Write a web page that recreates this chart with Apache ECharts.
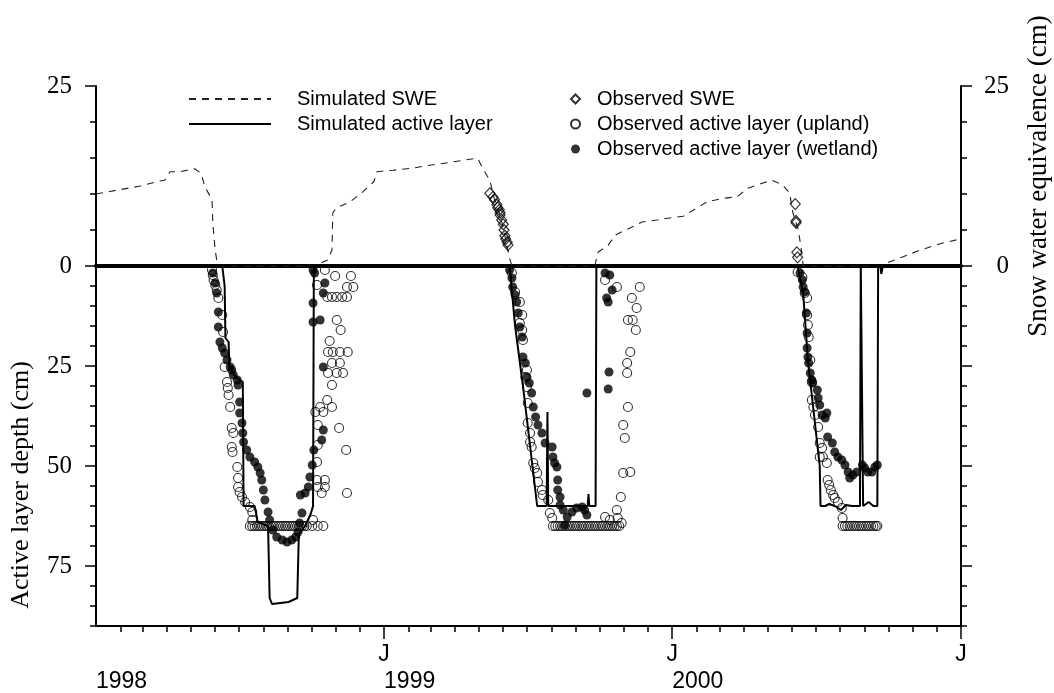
<!DOCTYPE html>
<html>
<head>
<meta charset="utf-8">
<title>Active layer and snow water equivalence</title>
<script src="https://cdn.jsdelivr.net/npm/echarts@6/dist/echarts.min.js"></script>
<style>
  html, body { margin: 0; padding: 0; background: #fff; }
  #chart { width: 1054px; height: 693px; }
</style>
</head>
<body>
<div id="chart"></div>
<script>
// ---- Data: [day of year, value] per calendar year ----
// Simulated snow water equivalence (cm)
const sweSim1998 = [[1,10.0],[31,10.6],[57,11.1],[82,11.8],[88,11.9],[95,13.1],[107,13.1],[126,13.5],[134,12.9],[139,11.0],[148,9.2],[149,6.0],[152,2.2],[154,0.8],[156,0],[276,0],[294,0.8],[300,2.2],[301,7.4],[306,8.1],[323,8.9],[339,10.3],[353,11.7],[357,13.1],[365,13.2]];
const sweSim1999 = [[12,13.3],[38,13.6],[59,14.0],[85,14.4],[114,14.9],[120,14.9],[125,13.75],[135,11.9],[141,9.2],[148,7.1],[154,4.3],[160,1.1],[163,0],[268,0],[272,1.9],[285,2.9],[294,4.3],[309,5.1],[328,6.1],[347,6.4],[365,6.7]];
const sweSim2000 = [[15,6.9],[33,8.1],[45,8.9],[65,9.4],[83,9.6],[97,10.8],[115,11.5],[128,11.9],[141,11.25],[150,10.1],[154,7.4],[161,5.0],[166,1.25],[167,0],[264,0],[268,0.1],[277,0.6],[293,1.25],[315,2.2],[344,3.2],[366,3.75]];

// Observed snow water equivalence (cm)
const sweObs1999 = [[135,10.1],[139,9.6],[141,9.2],[144,8.5],[145,8.1],[147,7.8],[148,7.4],[148,7.1],[150,6.4],[152,5.8],[153,5.0],[154,4.2],[155,3.75],[157,3.3],[158,2.9]];
const sweObs2000 = [[157,8.6],[158,6.25],[158,6.0],[159,1.9],[160,1.2]];

// Simulated active layer depth (cm)
const alSim1998 = [[1,0],[161,0],[163,0],[164,5],[165,18],[169,19],[170,25],[175,27],[180,28],[187,29],[188,60],[202,60],[206,64],[219,65],[221,83],[224,84.5],[245,84],[256,83],[258,67],[266,65],[273,62],[276,60],[277,2],[278,0],[365,0]];
const alSim1999 = [[1,0],[160,0],[164,8.5],[167,15],[177,30],[195,60],[207,60],[208,36.5],[209,60],[259,60],[260,57],[261,60],[269,60],[270,0],[365,0]];
const alSim2000 = [[1,0],[160,0],[167,6.75],[173,23.5],[188,50],[189,60],[195,60],[200,59.5],[207,60],[215,61],[221,59.75],[229,60],[239,60],[240,0],[242,0],[243,60],[250,59],[256,60],[261,60],[262,0],[265,0],[266,2],[268,0],[366,0]];

// Observed active layer depth, upland sites (cm)
const upland1998 = [[148,1],[149,2.25],[150,3.5],[152,4.75],[154,6],[156,8],[161,12.25],[162,16.5],[164,25.25],[167,29],[168,30.5],[169,32.25],[171,35.25],[173,40.5],[175,41.75],[173,45.25],[174,46.5],[180,50.25],[181,53],[181,55.25],[183,56.5],[186,57.75],[190,59],[196,60.25],[199,61.5],[199,63.5],
  [196,65],[199,65],[202,65],[205,65],[208,65],[211,65],[214,65],[217,65],[220,65],[223,65],[226,65],[229,65],[232,65],[235,65],[238,65],[241,65],[244,65],[247,65],[250,65],[253,65],[256,65],[259,65],[262,65],[265,65],[268,65],[275,65],[282,65],[289,65],
  [291,1],[304,2.5],[324,2.5],[319,5.25],[327,5.25],[281,4.75],[294,7.75],[300,7.75],[306,7.75],[313,7.75],[319,7.75],[306,13.5],[311,16],[297,18.75],[295,21.5],[301,21.5],[310,21.5],[320,21.5],[300,24.25],[310,24.25],[295,26.75],[306,26.75],[314,26.75],[300,29.75],[294,33.5],[285,35.25],[300,35.25],[279,36.5],[289,36.5],[282,39.75],[309,40.5],[282,44.75],[318,46],[281,49],[281,53.5],[291,53.5],[282,55.25],[291,55.25],[287,56.75],[319,56.75],[276,63.5]];
const upland1999 = [[163,1.75],[167,6.5],[173,9],[176,12.25],[173,14.25],[176,16],[177,18.5],[182,26],[180,27.75],[182,30.25],[183,34.25],[183,39.25],[186,41.75],[186,44],[188,45.25],[190,49.25],[192,50.5],[195,51.75],[196,54],[201,56],[202,57.25],[209,58.5],[211,61.75],[214,63],
  [215,65],[218,65],[221,65],[224,65],[227,65],[230,65],[233,65],[236,65],[239,65],[242,65],[245,65],[248,65],[251,65],[254,65],[257,65],[260,65],[263,65],[266,65],[269,65],[272,65],[275,65],[278,65],[281,65],[284,65],[287,65],[290,65],[293,65],[296,65],[299,65],
  [296,61],[297,63],[302,64.25],[281,62.75],[287,63.5],[301,57.75],
  [281,3.5],[296,5.25],[325,5.25],[315,8],[321,10.5],[310,13.5],[316,13.5],[320,16],[313,21.5],[309,24.25],[309,26.75],[310,35.25],[304,39.75],[306,43],[304,51.75],[313,51.5]];
const upland2000 = [[160,1.5],[166,2.75],[169,6.75],[172,8],[172,12.25],[173,14.75],[174,17.75],[176,23.5],[178,29],[178,33.5],[180,35.25],[182,37.25],[186,40.25],[188,44.25],[191,45.5],[188,47.75],[192,47.75],[197,49.25],[198,53.5],[200,54.75],[202,56],[205,57.25],[207,58],[211,59],[216,60.5],[217,63],
  [217,65],[220,65],[223,65],[226,65],[229,65],[232,65],[235,65],[238,65],[241,65],[244,65],[247,65],[250,65],[253,65],[256,65],[259,65],[261,65]];

// Observed active layer depth, wetland sites (cm)
const wetland1998 = [[149,1.75],[152,4.25],[154,6.75],[156,11.5],[156,15.25],[158,19],[161,20.5],[164,21.75],[167,23.5],[171,25.25],[173,26],[175,27.25],[180,28.5],[181,29.75],[183,34],[183,36.75],[186,39.25],[187,41.75],[188,44],[192,46],[196,47.75],[202,49],[206,50.25],[209,51.75],[211,53.5],[213,56],[215,58.5],[219,61.5],[221,63.5],[225,66],[230,67.75],[237,68.5],[243,69],[249,68.5],[254,67.75],[257,66.5],[259,64.25],[262,61.75],[260,57.25],[266,56.75],[270,55.25],[272,52.75],[275,49.75],[277,46],[287,43.5],[289,41],[289,25.25],[285,13.5],[276,14],[276,9.25],[289,6.75],[291,4.25],[278,1.75],[276,1]];
const wetland1999 = [[160,1],[163,3],[164,5.25],[167,7.25],[169,9],[171,11.75],[173,15.25],[176,17.75],[177,22.75],[180,24.25],[182,27.75],[185,29.25],[188,31.75],[190,35.25],[193,37.75],[196,39.75],[201,41.75],[205,44.25],[214,45.25],[215,47.75],[217,49.25],[220,50.25],[221,53.5],[221,56],[224,57.75],[224,59.75],[228,61],[233,62.75],[239,61.5],[245,60.5],[252,60.25],[255,61],[258,62.25],[230,64.75],[281,1.75],[287,2.25],[290,6],[283,8],[285,9],[286,26.5],[258,31.75],[285,30.75]];
const wetland2000 = [[163,1.75],[166,3.5],[167,5.25],[169,6.5],[171,11.75],[172,16.75],[172,20.5],[173,22.75],[174,24.25],[176,26.75],[178,28.5],[179,29.25],[185,31],[186,33],[188,34.75],[191,37.25],[195,38],[197,36.75],[198,42.75],[204,44.25],[207,46.5],[211,47.75],[216,48.5],[220,49.75],[224,51.5],[226,53],[230,52.25],[235,51.5],[242,49.75],[245,50.5],[249,51.5],[254,51.5],[258,50.25],[261,49.75]];

// Axis tick labels
const depthTickLabels = [25, 50, 75];
const sweTickLabels = [0, 25];
const yearLabels = [1998, 1999, 2000];
const monthLetter = 'J';

// ---- Helpers: the time axis is counted in days since 1 Jan 1998 (UTC) ----
const MS_DAY = 86400000;
const T0 = Date.UTC(1998, 0, 1);
const dayNum = ms => Math.round((ms - T0) / MS_DAY);
const dayOf = (year, doy) => dayNum(Date.UTC(year, 0, doy));
const toSeries = (year, rows) => rows.map(([d, v]) => [dayOf(year, d), v]);
const join = (...parts) => [].concat(...parts);

const X_MIN = 0;
const X_MAX = dayNum(Date.UTC(2001, 0, 1));

const monthStarts = [];
const januaries = [];
for (let y = 1998; y <= 2000; y++) {
  for (let m = 1; m < 12; m++) monthStarts.push(dayNum(Date.UTC(y, m, 1)));
  januaries.push(dayNum(Date.UTC(y + 1, 0, 1)));
}
const yearStarts = yearLabels.map(y => dayNum(Date.UTC(y, 0, 1)));
const yearOf = d => new Date(T0 + d * MS_DAY).getUTCFullYear();

const SERIF = '"Liberation Serif", "Times New Roman", serif';
const SANS = '"Liberation Sans", Arial, sans-serif';
const INK = '#000';
const NONE = 'rgba(0,0,0,0)';

const solidAxisLine = { show: true, onZero: false, lineStyle: { color: INK, width: 2 } };
const hiddenAxisLine = { show: false, onZero: false };
const tickStyle = { color: INK, width: 1.5 };
const timeAxisBase = { type: 'value', min: X_MIN, max: X_MAX, splitLine: { show: false } };

const chart = echarts.init(document.getElementById('chart'), null, { renderer: 'canvas' });

chart.setOption({
  animation: false,
  backgroundColor: '#fff',
  legend: [
    {
      data: ['Simulated SWE', 'Simulated active layer'],
      orient: 'vertical', left: 183, top: 84,
      itemWidth: 82, itemHeight: 14, itemGap: 5,
      selectedMode: false,
      textStyle: { fontFamily: SANS, fontSize: 20, color: INK, lineHeight: 20, padding: [0, 0, 0, 21] }
    },
    {
      data: ['Observed SWE', 'Observed active layer (upland)', 'Observed active layer (wetland)'],
      orient: 'vertical', left: 565, top: 84,
      itemWidth: 9, itemHeight: 9, itemGap: 5,
      selectedMode: false,
      textStyle: { fontFamily: SANS, fontSize: 20, color: INK, lineHeight: 20, padding: [0, 0, 0, 12] }
    }
  ],
  grid: [
    { left: 96, right: 93, top: 86, height: 180, outerBoundsMode: 'none', containLabel: false },
    { left: 96, right: 93, top: 266, height: 360, outerBoundsMode: 'none', containLabel: false }
  ],
  xAxis: [
    Object.assign({}, timeAxisBase, { // zero line between snow panel and depth panel
      gridIndex: 0, position: 'bottom',
      axisLine: { show: true, onZero: false, lineStyle: { color: INK, width: 4 } },
      axisTick: { show: false }, axisLabel: { show: false }
    }),
    Object.assign({}, timeAxisBase, { // monthly ticks
      gridIndex: 1, position: 'bottom',
      axisLine: solidAxisLine,
      axisTick: { show: true, customValues: monthStarts, length: 6, lineStyle: tickStyle },
      axisLabel: { show: false }
    }),
    Object.assign({}, timeAxisBase, { // January ticks
      gridIndex: 1, position: 'bottom',
      axisLine: hiddenAxisLine,
      axisTick: { show: true, customValues: januaries, length: 13, lineStyle: tickStyle },
      axisLabel: { show: true, customValues: januaries, formatter: () => monthLetter, margin: 17,
                   fontFamily: SANS, fontSize: 23, color: INK }
    }),
    Object.assign({}, timeAxisBase, { // year labels
      gridIndex: 1, position: 'bottom',
      axisLine: hiddenAxisLine, axisTick: { show: false },
      axisLabel: { show: true, customValues: yearStarts, formatter: v => String(yearOf(v)),
                   align: 'left', margin: 44, fontFamily: SANS, fontSize: 23, color: INK }
    })
  ],
  yAxis: [
    { // SWE, left
      type: 'value', gridIndex: 0, position: 'left', min: 0, max: 25, interval: 25,
      axisLine: solidAxisLine,
      axisTick: { show: true, length: 11, lineStyle: tickStyle },
      minorTick: { show: true, splitNumber: 5, length: 6, lineStyle: tickStyle },
      axisLabel: { customValues: sweTickLabels, margin: 24, fontFamily: SERIF, fontSize: 25, color: INK },
      splitLine: { show: false }
    },
    { // SWE, right
      type: 'value', gridIndex: 0, position: 'right', min: 0, max: 25, interval: 25,
      axisLine: solidAxisLine,
      axisTick: { show: true, length: 11, lineStyle: tickStyle },
      minorTick: { show: true, splitNumber: 5, length: 6, lineStyle: tickStyle },
      axisLabel: {
        customValues: sweTickLabels, margin: 22, align: 'left',
        formatter: v => '{r|' + v + '}',
        rich: { r: { width: 26, align: 'right', fontFamily: SERIF, fontSize: 25, color: INK } }
      },
      name: 'Snow water equivalence (cm)', nameLocation: 'middle', nameRotate: 90, nameGap: 64,
      nameTextStyle: { fontFamily: SERIF, fontSize: 27, color: INK },
      splitLine: { show: false }
    },
    { // depth, left (minor ticks every 5 cm)
      type: 'value', gridIndex: 1, position: 'left', min: 0, max: 90, interval: 5, inverse: true,
      axisLine: solidAxisLine,
      axisTick: { show: true, length: 6, lineStyle: tickStyle },
      axisLabel: { show: false },
      name: 'Active layer depth (cm)', nameLocation: 'middle', nameRotate: 90, nameGap: 62,
      nameTextStyle: { fontFamily: SERIF, fontSize: 26, color: INK, padding: [0, 78, 0, 0] },
      splitLine: { show: false }
    },
    { // depth, left (labelled ticks)
      type: 'value', gridIndex: 1, position: 'left', min: 0, max: 90, inverse: true,
      axisLine: hiddenAxisLine,
      axisTick: { show: true, customValues: depthTickLabels, length: 11, lineStyle: tickStyle },
      axisLabel: { show: true, customValues: depthTickLabels, margin: 24, fontFamily: SERIF, fontSize: 25, color: INK },
      splitLine: { show: false }
    },
    { // depth, right (minor ticks)
      type: 'value', gridIndex: 1, position: 'right', min: 0, max: 90, interval: 5, inverse: true,
      axisLine: solidAxisLine,
      axisTick: { show: true, length: 6, lineStyle: tickStyle },
      axisLabel: { show: false }, splitLine: { show: false }
    },
    { // depth, right (major ticks)
      type: 'value', gridIndex: 1, position: 'right', min: 0, max: 90, inverse: true,
      axisLine: hiddenAxisLine,
      axisTick: { show: true, customValues: depthTickLabels, length: 11, lineStyle: tickStyle },
      axisLabel: { show: false }, splitLine: { show: false }
    }
  ],
  series: [
    {
      name: 'Simulated SWE', type: 'line', xAxisIndex: 0, yAxisIndex: 0,
      symbol: 'none', clip: false,
      lineStyle: { color: '#222', width: 1.1, type: [7, 6] },
      itemStyle: { color: NONE, borderColor: NONE, borderWidth: 0 },
      data: join(toSeries(1998, sweSim1998), toSeries(1999, sweSim1999), toSeries(2000, sweSim2000)),
      z: 3
    },
    {
      name: 'Observed SWE', type: 'scatter', xAxisIndex: 0, yAxisIndex: 0,
      symbol: 'diamond', symbolSize: [10, 11], clip: false,
      itemStyle: { color: NONE, borderColor: INK, borderWidth: 1.2 },
      data: join(toSeries(1999, sweObs1999), toSeries(2000, sweObs2000)),
      z: 4
    },
    {
      name: 'Simulated active layer', type: 'line', xAxisIndex: 1, yAxisIndex: 2,
      symbol: 'none', clip: false,
      lineStyle: { color: INK, width: 2 },
      itemStyle: { color: NONE, borderColor: NONE, borderWidth: 0 },
      data: join(toSeries(1998, alSim1998), toSeries(1999, alSim1999), toSeries(2000, alSim2000)),
      z: 3
    },
    {
      name: 'Observed active layer (upland)', type: 'scatter', xAxisIndex: 1, yAxisIndex: 2,
      symbol: 'circle', symbolSize: 9, clip: false,
      itemStyle: { color: NONE, borderColor: INK, borderWidth: 1.1 },
      data: join(toSeries(1998, upland1998), toSeries(1999, upland1999), toSeries(2000, upland2000)),
      z: 4
    },
    {
      name: 'Observed active layer (wetland)', type: 'scatter', xAxisIndex: 1, yAxisIndex: 2,
      symbol: 'circle', symbolSize: 9, clip: false,
      itemStyle: { color: INK },
      data: join(toSeries(1998, wetland1998), toSeries(1999, wetland1999), toSeries(2000, wetland2000)),
      z: 5
    }
  ]
});
</script>
</body>
</html>
